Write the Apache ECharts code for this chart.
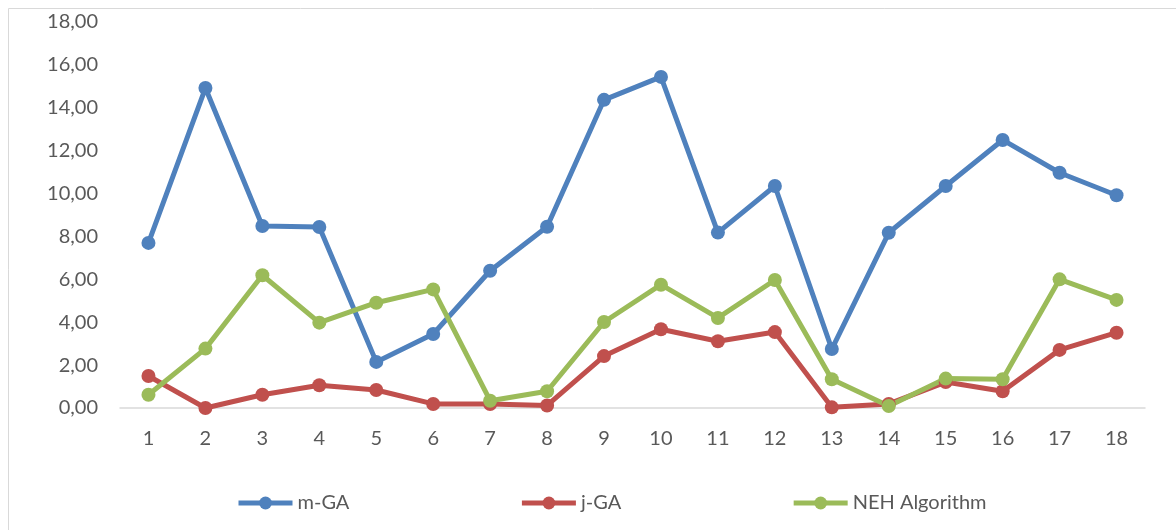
<!DOCTYPE html>
<html>
<head>
<meta charset="utf-8">
<script src="https://cdn.jsdelivr.net/npm/echarts@6/dist/echarts.min.js"></script>
<style>
  html, body { margin: 0; padding: 0; background: #fff; }
  #main { width: 1176px; height: 530px; }
</style>
</head>
<body>
<div id="main"></div>
<script>
// 数据
const categories = ['1', '2', '3', '4', '5', '6', '7', '8', '9', '10', '11', '12', '13', '14', '15', '16', '17', '18'];
const mGA = [7.70, 14.92, 8.49, 8.44, 2.15, 3.45, 6.40, 8.45, 14.37, 15.44, 8.18, 10.35, 2.75, 8.17, 10.35, 12.50, 10.97, 9.92];
const jGA = [1.49, 0.00, 0.62, 1.06, 0.84, 0.19, 0.19, 0.12, 2.42, 3.67, 3.11, 3.54, 0.03, 0.19, 1.21, 0.78, 2.71, 3.51];
const neh = [0.62, 2.77, 6.19, 3.98, 4.91, 5.53, 0.34, 0.78, 4.01, 5.75, 4.20, 5.97, 1.34, 0.09, 1.37, 1.34, 6.00, 5.04];

const font = 'Lato, "Open Sans", sans-serif';
const myChart = echarts.init(document.getElementById('main'));

function lineSeries(name, data, color) {
    return {
        name: name,
        type: 'line',
        data: data,
        symbol: 'circle',
        symbolSize: 14,
        itemStyle: { color: color },
        lineStyle: { color: color, width: 5 },
        emphasis: { disabled: true }
    };
}

myChart.setOption({
    animation: false,
    textStyle: { fontFamily: font },
    graphic: [{
        type: 'rect',
        shape: { x: 8.5, y: 8.5, width: 1300, height: 700 },
        style: { fill: 'none', stroke: '#d9d9d9', lineWidth: 1 },
        silent: true
    }],
    grid: { left: 120, right: 31, top: 22, bottom: 122 },
    legend: {
        bottom: 12,
        left: 231,
        itemWidth: 54,
        itemHeight: 16,
        itemGap: 170,
        lineStyle: { width: 5 },
        textStyle: { fontSize: 20, color: '#595959', fontFamily: font },
        data: ['m-GA', 'j-GA', 'NEH Algorithm']
    },
    xAxis: {
        type: 'category',
        data: categories,
        axisLine: { lineStyle: { color: '#d9d9d9', width: 1.5 } },
        axisTick: { show: false },
        axisLabel: { fontSize: 20, color: '#595959', margin: 21 }
    },
    yAxis: {
        type: 'value',
        min: 0,
        max: 18,
        interval: 2,
        axisLine: { show: false },
        axisTick: { show: false },
        splitLine: { show: false },
        axisLabel: {
            fontSize: 20,
            color: '#595959',
            margin: 22,
            formatter: (v) => v.toFixed(2).replace('.', ',')
        }
    },
    series: [
        lineSeries('m-GA', mGA, '#4F81BD'),
        lineSeries('j-GA', jGA, '#C0504D'),
        lineSeries('NEH Algorithm', neh, '#9BBB59')
    ]
});
</script>
</body>
</html>
